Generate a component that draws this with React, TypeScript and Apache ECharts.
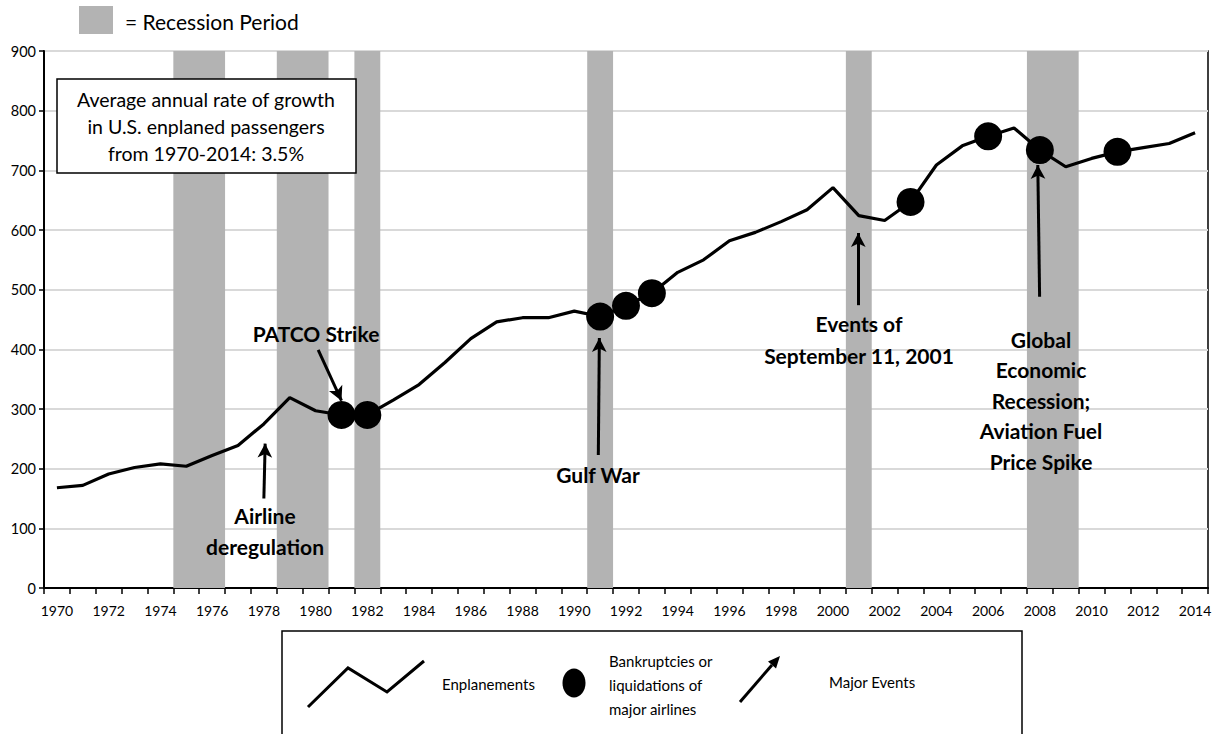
import React, { useEffect, useRef } from "react";
import * as echarts from "echarts";

const years: string[] = [];
for (let y = 1970; y <= 2014; y++) years.push(String(y));

const enplanements = [
  168, 172, 191, 202, 208, 204, 222, 239, 275, 319,
  297, 290, 290, 315, 341, 378, 418, 446, 453, 453,
  464, 455, 473, 494, 529, 550, 582, 596, 614, 634,
  671, 624, 616, 647, 709, 741, 757, 771, 734, 706,
  720, 731, 738, 745, 763,
];

const bankruptcyYears = [1981, 1982, 1991, 1992, 1993, 2003, 2006, 2008, 2011];

const recessionStart = [1975, 1979, 1982, 1991, 2001, 2008];
const recessionEnd = [1976, 1980, 1982, 1991, 2001, 2009];

const eventArrowFrom: [number, number][] = [
  [1978.0, 150], [1980.1, 399], [1990.93, 223], [2000.98, 474], [2007.99, 488],
];
const eventArrowTo: [number, number][] = [
  [1978.05, 242], [1981.0, 314], [1990.97, 419], [2000.98, 595], [2007.92, 709],
];

const yTicks = { min: 0, max: 900, interval: 100 };

const FONT = "Lato, 'Open Sans', 'Liberation Sans', sans-serif";

export default function App() {
  const ref = useRef<HTMLDivElement>(null);
  useEffect(() => {
    if (!ref.current) return;
    const chart = echarts.init(ref.current, null, { renderer: "svg" });
    const txt = (text: string, x: number, y: number, size: number, bold: boolean, align: string, lh?: number) => ({
      type: "text",
      z: 50,
      style: {
        text,
        x,
        y,
        fill: "#000",
        font: `${bold ? "bold " : ""}${size}px ${FONT}`,
        align,
        textAlign: align,
        verticalAlign: "middle",
        textVerticalAlign: "middle",
        lineHeight: lh || size * 1.2,
      },
    });
    const option: any = {
      animation: false,
      backgroundColor: "#fff",
      textStyle: { fontFamily: FONT },
      grid: {
        left: 44, right: 7, top: 51, bottom: 146,
        show: true, borderColor: "#000", borderWidth: 1.5, backgroundColor: "transparent",
      },
      xAxis: [
        {
          type: "category",
          data: years,
          boundaryGap: true,
          axisLine: { lineStyle: { color: "#000", width: 2 } },
          axisTick: { show: true, interval: 0, length: 6, lineStyle: { color: "#000", width: 1.5 } },
          axisLabel: { interval: 1, color: "#000", fontSize: 14, margin: 15, fontFamily: FONT },
          splitLine: { show: false },
        },
        { type: "value", min: 1969.5, max: 2014.5, show: false },
      ],
      yAxis: {
        type: "value",
        min: yTicks.min,
        max: yTicks.max,
        interval: yTicks.interval,
        axisLine: { show: true, lineStyle: { color: "#000", width: 2 } },
        axisTick: { show: true, length: 5, lineStyle: { color: "#000", width: 1.5 } },
        axisLabel: { color: "#000", fontSize: 14.5, margin: 8, fontFamily: FONT },
        splitLine: { lineStyle: { color: "#d9d9d9", width: 2 } },
      },
      series: [
        {
          type: "custom",
          xAxisIndex: 1,
          z: 1,
          silent: true,
          data: recessionStart.map((s, i) => [s, recessionEnd[i]]),
          encode: { x: [0, 1] },
          renderItem: (params: any, api: any) => {
            const p0 = api.coord([api.value(0) - 0.5, yTicks.max]);
            const p1 = api.coord([api.value(1) + 0.5, yTicks.min]);
            return {
              type: "rect",
              shape: { x: p0[0], y: p0[1], width: p1[0] - p0[0], height: p1[1] - p0[1] },
              style: { fill: "#b3b3b3" },
            };
          },
        },
        {
          type: "line",
          name: "Enplanements",
          data: enplanements,
          z: 3,
          symbol: "none",
          lineStyle: { color: "#000", width: 3.2 },
          silent: true,
        },
        {
          type: "scatter",
          name: "Bankruptcies",
          xAxisIndex: 1,
          z: 4,
          symbolSize: 28,
          itemStyle: { color: "#000", opacity: 1 },
          data: bankruptcyYears.map((y) => [y, enplanements[y - 1970]]),
          silent: true,
          markLine: {
            silent: true,
            symbol: ["none", "arrow"],
            symbolSize: [11, 14],
            label: { show: false },
            lineStyle: { color: "#000", width: 3, type: "solid", opacity: 1 },
            emphasis: { disabled: true },
            data: eventArrowFrom.map((f, i) => [{ coord: f }, { coord: eventArrowTo[i] }]),
          },
        },
      ],
      graphic: [
        { type: "rect", z: 50, shape: { x: 79, y: 6, width: 34, height: 28 }, style: { fill: "#b3b3b3" } },
        txt("= Recession Period", 125, 21, 21, false, "left"),
        { type: "rect", z: 49, shape: { x: 57, y: 79, width: 299, height: 94 }, style: { fill: "#fff", stroke: "#000", lineWidth: 1.5 } },
        txt("Average annual rate of growth\nin U.S. enplaned passengers\nfrom 1970-2014: 3.5%", 206, 126.5, 19.5, false, "center", 27),
        txt("Airline\nderegulation", 265, 531, 21, true, "center", 31),
        txt("PATCO Strike", 316, 333, 21, true, "center"),
        txt("Gulf War", 598, 474, 21, true, "center"),
        txt("Events of\nSeptember 11, 2001", 859, 339, 21, true, "center", 32),
        txt("Global\nEconomic\nRecession;\nAviation Fuel\nPrice Spike", 1041, 400, 21, true, "center", 30.5),
        { type: "rect", z: 49, shape: { x: 282, y: 631, width: 740, height: 110 }, style: { fill: "#fff", stroke: "#000", lineWidth: 1.5 } },
        { type: "polyline", z: 50, shape: { points: [[308, 707], [348, 668], [387, 692], [424, 661]] }, style: { stroke: "#000", lineWidth: 3, fill: null } },
        txt("Enplanements", 442, 684, 15, false, "left"),
        { type: "ellipse", z: 50, shape: { cx: 574, cy: 683, rx: 11.5, ry: 14.5 }, style: { fill: "#000" } },
        txt("Bankruptcies or\nliquidations of\nmajor airlines", 609, 685, 15, false, "left", 23.7),
        { type: "line", z: 50, shape: { x1: 740, y1: 702, x2: 772, y2: 665 }, style: { stroke: "#000", lineWidth: 3 } },
        { type: "polygon", z: 50, shape: { points: [[780, 656], [776, 668.5], [768, 661.5]] }, style: { fill: "#000" } },
        txt("Major Events", 829, 682, 15, false, "left"),
      ],
    };
    chart.setOption(option);
    return () => chart.dispose();
  }, []);
  return (
    <div
      ref={ref}
      style={{ position: "fixed", left: 0, top: 0, width: 1215, height: 734, background: "#fff" }}
    />
  );
}
